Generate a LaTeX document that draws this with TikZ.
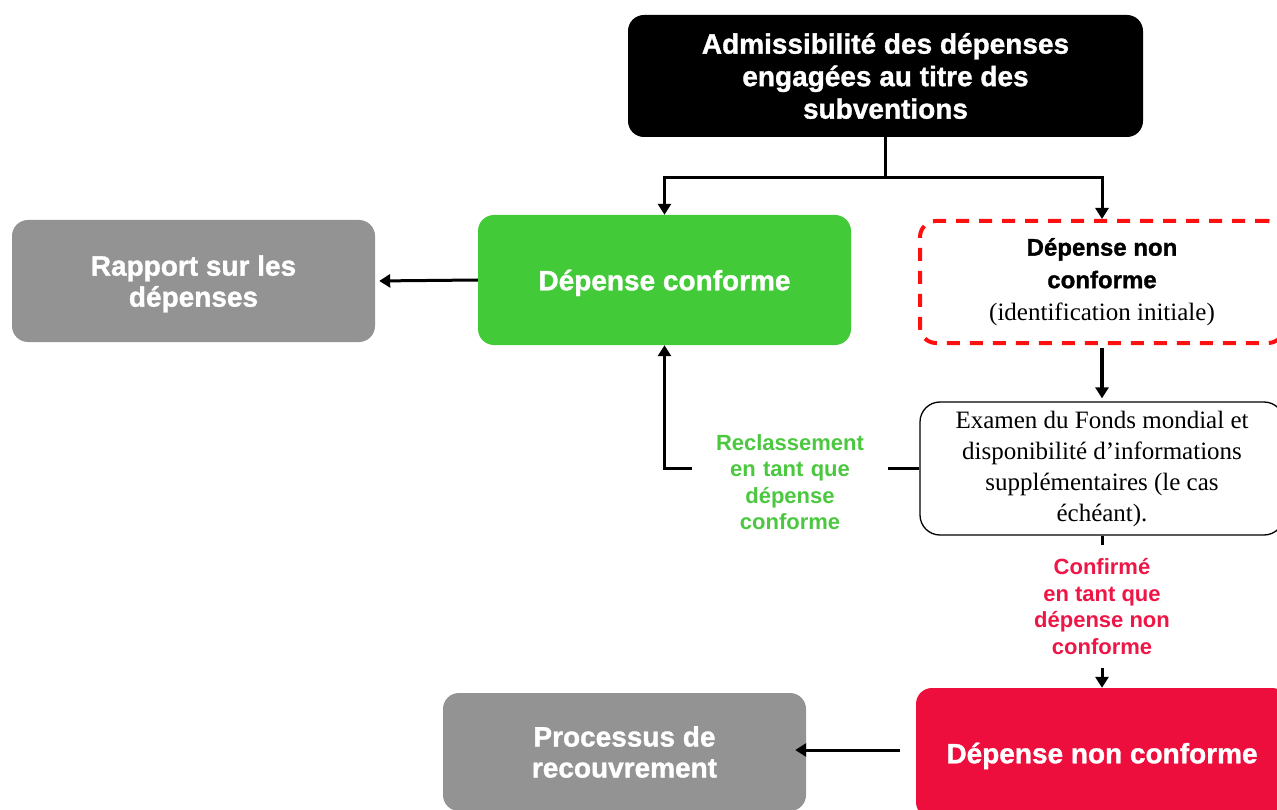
\documentclass[tikz,border=0pt]{standalone}
\usepackage{fontspec}
\setmainfont{Liberation Serif}
\newfontfamily\arial{Liberation Sans}
\newfontfamily\arialheavy[FakeBold=1.2]{Liberation Sans Bold}
\usetikzlibrary{arrows.meta,calc}
\definecolor{cgreen}{HTML}{43CA39}
\definecolor{cgray}{HTML}{939393}
\definecolor{ccrimson}{HTML}{EE0E3D}
\definecolor{clabgreen}{HTML}{4CC840}
\definecolor{clabred}{HTML}{EE1646}
\definecolor{cdash}{HTML}{FF1010}
\begin{document}
\begin{tikzpicture}[x=1pt,y=-1pt,
  box/.style={rounded corners=16pt, align=center, inner sep=0pt},
  bigfont/.style={font=\arialheavy\fontsize{28}{31}\selectfont},
  labfont/.style={font=\arial\bfseries\fontsize{22}{26.5}\selectfont},
  conn/.style={line width=3pt},
  arr/.style={line width=3pt, -{Triangle[length=11pt,width=13pt]}}]
\useasboundingbox (0,0) rectangle (1277,810);
\clip (0,0) rectangle (1277,810);

\node[box, fill=black, text=white, minimum width=515pt, minimum height=122pt,
      font=\arialheavy\fontsize{28}{32.5}\selectfont] (top) at (885.5,76)
  {Admissibilité des dépenses\\engagées au titre des\\subventions};

\node[box, fill=cgreen, text=white, minimum width=373pt, minimum height=130pt, bigfont, text depth=0pt]
  (green) at (664.5,280) {Dépense conforme};

\node[box, fill=cgray, text=white, minimum width=363pt, minimum height=122pt, bigfont, text depth=0pt]
  (gray1) at (193.5,281) {Rapport sur les\\dépenses};

\node[box, draw=cdash, line width=4pt, dash pattern=on 13pt off 10pt, fill=white,
      minimum width=364pt, minimum height=122pt, font=\fontsize{24}{32.5}\selectfont]
  (dashed) at (1102,282)
  {{\arialheavy Dépense non}\\{\arialheavy conforme}\\{\fontsize{25}{32}\selectfont (identification initiale)}};

\node[box, draw=black, line width=1.3pt, rounded corners=20pt, fill=white,
      minimum width=364pt, minimum height=133pt, font=\fontsize{25}{31}\selectfont]
  (examen) at (1102,468.5)
  {Examen du Fonds mondial et\\disponibilité d’informations\\supplémentaires (le cas\\échéant).};

\node[align=center, text width=150pt, inner xsep=23pt, inner ysep=0pt, text=clabgreen, labfont]
  (reclass) at (790,482) {Reclassement\\en tant que\\dépense\\conforme};

\node[align=center, inner sep=0pt, minimum height=123pt, text=clabred, labfont]
  (confirm) at (1102,606.5) {Confirmé\\en tant que\\dépense non\\conforme};

\node[box, fill=ccrimson, text=white, minimum width=372pt, minimum height=130pt, bigfont, text depth=0pt]
  (red) at (1102,753) {Dépense non conforme};

\node[box, fill=cgray, text=white, minimum width=363pt, minimum height=118pt, bigfont]
  (gray2) at (624.5,752) {Processus de\\recouvrement};

\coordinate (j) at (885.5,178);
\draw[conn] (top.south) -- (j);
\draw[arr] ([xshift=1.5pt]j) -| (green.north);
\draw[arr] ([xshift=-1.5pt]j) -| (dashed.north);
\draw[arr, shorten >=4pt] (green.west) -- (gray1.east);
\draw[arr, line width=4pt, shorten <=3pt, shorten >=3pt] (dashed.south) -- (examen.north);
\draw[conn] (examen.west) -- (examen.west -| reclass.east);
\draw[arr] (examen.west -| reclass.west) -| (green.south);
\draw[conn] (examen.south) -- (confirm.north);
\draw[arr] (confirm.south) -- (red.north);
\draw[arr, shorten <=16pt, shorten >=-11pt] ([yshift=3pt]red.west) -- ([yshift=3pt]red.west -| gray2.east);
\end{tikzpicture}
\end{document}
